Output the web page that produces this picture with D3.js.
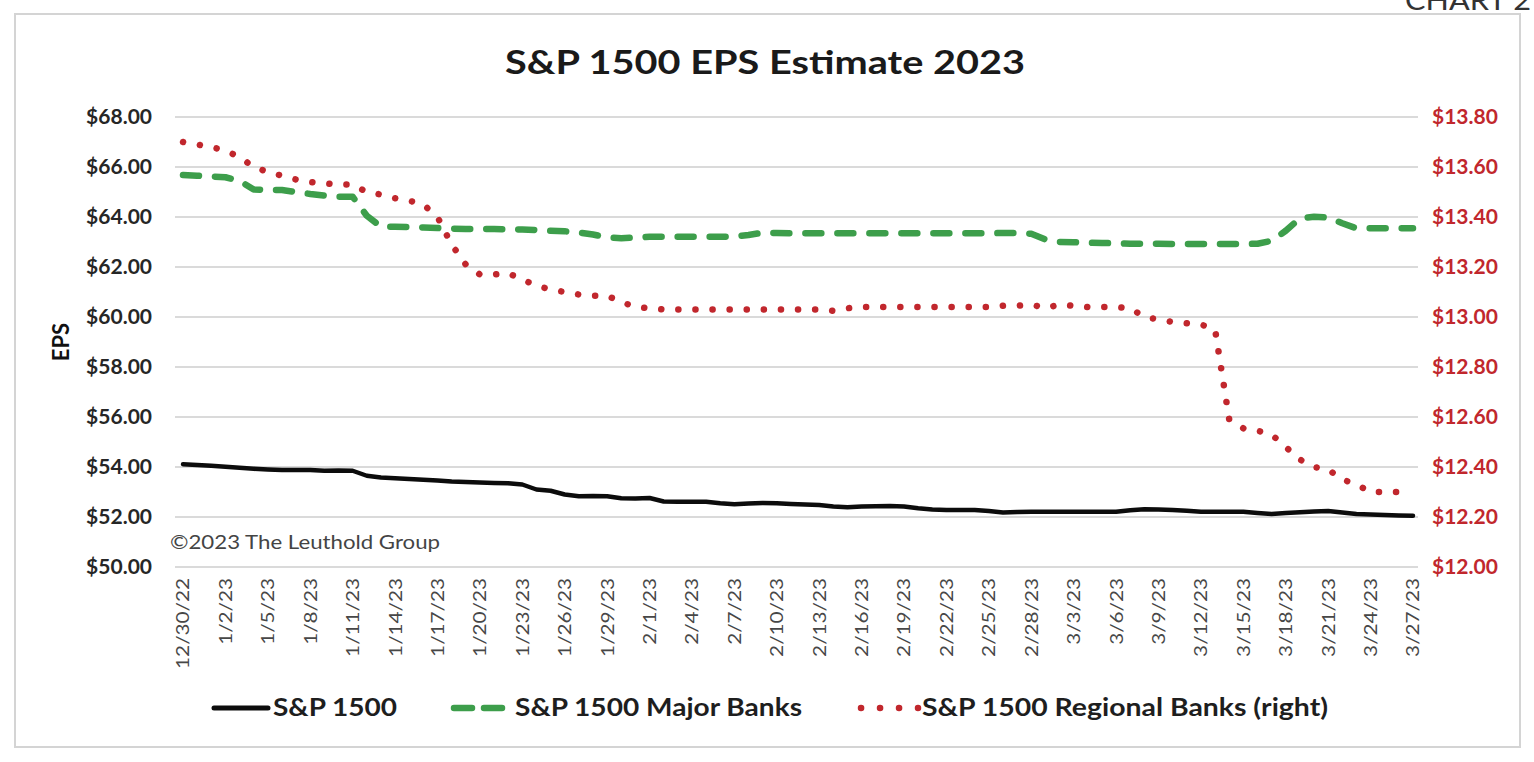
<!DOCTYPE html>
<html>
<head>
<meta charset="utf-8">
<script src="https://cdn.jsdelivr.net/npm/d3@7"></script>
<style>
  html, body { margin: 0; padding: 0; background: #fff; }
  svg { display: block; }
  text { font-family: Lato, "Open Sans", sans-serif; }
</style>
</head>
<body>
<div id="chart"></div>
<script>
// daily series, 12/30/22 .. 3/27/23
var startDay = new Date(2022, 11, 30), endDay = new Date(2023, 2, 27);

var sp1500 = [
  54.11, 54.08, 54.05, 54.01, 53.97, 53.93, 53.90, 53.88, 53.88, 53.88,
  53.85, 53.86, 53.85, 53.65, 53.58, 53.55, 53.52, 53.49, 53.46, 53.42,
  53.40, 53.38, 53.36, 53.35, 53.30, 53.10, 53.05, 52.90, 52.83, 52.84,
  52.83, 52.75, 52.74, 52.76, 52.62, 52.61, 52.61, 52.61, 52.55, 52.51,
  52.54, 52.56, 52.55, 52.52, 52.50, 52.48, 52.42, 52.39, 52.42, 52.43,
  52.44, 52.42, 52.35, 52.30, 52.28, 52.28, 52.28, 52.24, 52.18, 52.20,
  52.21, 52.21, 52.21, 52.21, 52.21, 52.21, 52.21, 52.27, 52.31, 52.30,
  52.28, 52.25, 52.21, 52.21, 52.21, 52.21, 52.16, 52.12, 52.16, 52.19,
  52.22, 52.24, 52.18, 52.12, 52.10, 52.08, 52.06, 52.05
];
var majorBanks = [
  65.68, 65.65, 65.62, 65.59, 65.45, 65.10, 65.08, 65.08, 65.00, 64.92,
  64.86, 64.81, 64.81, 64.05, 63.61, 63.61, 63.60, 63.58, 63.56, 63.53,
  63.52, 63.52, 63.52, 63.51, 63.50, 63.48, 63.45, 63.43, 63.38, 63.30,
  63.18, 63.15, 63.18, 63.21, 63.21, 63.21, 63.21, 63.21, 63.21, 63.22,
  63.28, 63.37, 63.36, 63.35, 63.35, 63.35, 63.35, 63.35, 63.35, 63.35,
  63.35, 63.35, 63.35, 63.35, 63.35, 63.35, 63.35, 63.35, 63.36, 63.36,
  63.33, 63.10, 63.00, 62.99, 62.97, 62.96, 62.95, 62.93, 62.93, 62.93,
  62.92, 62.92, 62.92, 62.92, 62.92, 62.92, 62.93, 63.05, 63.45, 63.95,
  64.01, 63.98, 63.75, 63.55, 63.55, 63.55, 63.55, 63.55
];
var regionalBanks = [
  13.70, 13.69, 13.68, 13.665, 13.64, 13.60, 13.58, 13.565, 13.55, 13.54,
  13.535, 13.53, 13.53, 13.50, 13.49, 13.475, 13.465, 13.45, 13.40, 13.29,
  13.21, 13.17, 13.17, 13.175, 13.15, 13.125, 13.11, 13.10, 13.09, 13.085,
  13.085, 13.06, 13.04, 13.035, 13.03, 13.03, 13.03, 13.03, 13.03, 13.03,
  13.03, 13.03, 13.03, 13.03, 13.03, 13.03, 13.025, 13.035, 13.04, 13.04,
  13.04, 13.04, 13.04, 13.04, 13.04, 13.04, 13.04, 13.04, 13.045, 13.045,
  13.05, 13.035, 13.05, 13.045, 13.04, 13.04, 13.04, 13.035, 13.00, 12.99,
  12.98, 12.975, 12.97, 12.95, 12.59, 12.555, 12.545, 12.53, 12.48, 12.43,
  12.40, 12.39, 12.35, 12.33, 12.30, 12.30, 12.30, 12.30
];

var tickLabels = ["12/30/22","1/2/23","1/5/23","1/8/23","1/11/23","1/14/23","1/17/23","1/20/23",
  "1/23/23","1/26/23","1/29/23","2/1/23","2/4/23","2/7/23","2/10/23","2/13/23","2/16/23",
  "2/19/23","2/22/23","2/25/23","2/28/23","3/3/23","3/6/23","3/9/23","3/12/23","3/15/23",
  "3/18/23","3/21/23","3/24/23","3/27/23"];
var leftTicks = [50, 52, 54, 56, 58, 60, 62, 64, 66, 68];
var rightTicks = [12.0, 12.2, 12.4, 12.6, 12.8, 13.0, 13.2, 13.4, 13.6, 13.8];

var W = 1534, H = 762;
var red = "#c1272d", green = "#3d9e4b";

var days = d3.timeDay.range(startDay, d3.timeDay.offset(endDay, 1));
var parse = d3.timeParse("%m/%d/%y");
var tickDates = tickLabels.map(function(s){ return parse(s); });

var svg = d3.select("#chart").append("svg")
  .attr("width", W).attr("height", H);

svg.append("text")
  .attr("x", 1531).attr("y", 10)
  .attr("text-anchor", "end")
  .attr("font-size", 27).attr("fill", "#333")
  .attr("textLength", 126).attr("lengthAdjust", "spacingAndGlyphs")
  .text("CHART 2");

svg.append("rect")
  .attr("x", 15).attr("y", 14).attr("width", 1505).attr("height", 733)
  .attr("fill", "#fff").attr("stroke", "#d4d4d4").attr("stroke-width", 2);

var x = d3.scaleTime().domain([startDay, endDay]).range([183, 1413]);
var yL = d3.scaleLinear().domain([50, 68]).range([567, 117]);
var yR = d3.scaleLinear().domain([12, 13.8]).range([567, 117]);

// gridlines
svg.append("g").selectAll("line")
  .data(leftTicks).enter().append("line")
  .attr("x1", 175).attr("x2", 1418)
  .attr("y1", function(d){ return yL(d); })
  .attr("y2", function(d){ return yL(d); })
  .attr("stroke", "#dadada").attr("stroke-width", 2);

// left axis
var gl = svg.append("g").attr("transform", "translate(152,0)")
  .call(d3.axisLeft(yL).tickValues(leftTicks).tickSize(0).tickPadding(0)
    .tickFormat(function(d){ return "$" + d.toFixed(2); }));
gl.select(".domain").remove();
gl.selectAll("text").attr("font-family", "Lato").attr("font-weight", "bold")
  .attr("font-size", 21).attr("fill", "#262626");

// right axis
var gr = svg.append("g").attr("transform", "translate(1432,0)")
  .call(d3.axisRight(yR).tickValues(rightTicks).tickSize(0).tickPadding(0)
    .tickFormat(function(d){ return "$" + d.toFixed(2); }));
gr.select(".domain").remove();
gr.selectAll("text").attr("font-family", "Lato").attr("font-weight", "bold")
  .attr("font-size", 21).attr("fill", red);

// bottom axis, rotated labels
var gx = svg.append("g").attr("transform", "translate(0,578)")
  .call(d3.axisBottom(x).tickValues(tickDates).tickSize(0)
    .tickFormat(function(d, i){ return tickLabels[i]; }));
gx.select(".domain").remove();
gx.selectAll("text")
  .attr("font-family", "Lato").attr("font-size", 17).attr("fill", "#474747")
  .attr("text-anchor", "end")
  .attr("transform", "rotate(-90)")
  .attr("x", 0).attr("y", 0).attr("dy", "0.35em")
  .each(function(){
    var len = this.getComputedTextLength();
    d3.select(this).attr("textLength", len * 1.22).attr("lengthAdjust", "spacingAndGlyphs");
  });

svg.append("text")
  .attr("transform", "translate(69,342) rotate(-90)")
  .attr("text-anchor", "middle")
  .attr("font-weight", "bold").attr("font-size", 22).attr("fill", "#111")
  .text("EPS");

svg.append("text")
  .attr("x", 765).attr("y", 74)
  .attr("text-anchor", "middle")
  .attr("font-weight", "bold").attr("font-size", 33).attr("fill", "#1a1a1a")
  .attr("textLength", 520).attr("lengthAdjust", "spacingAndGlyphs")
  .text("S&P 1500 EPS Estimate 2023");

svg.append("text")
  .attr("x", 170).attr("y", 549)
  .attr("font-size", 19).attr("fill", "#444")
  .attr("textLength", 270).attr("lengthAdjust", "spacingAndGlyphs")
  .text("\u00a92023 The Leuthold Group");

// series
function seriesLine(vals, y){
  return d3.line()
    .x(function(d, i){ return x(days[i]); })
    .y(function(d){ return y(d); })(vals);
}

svg.append("path")
  .attr("d", seriesLine(sp1500, yL))
  .attr("fill", "none").attr("stroke", "#0c0c0c").attr("stroke-width", 4.5)
  .attr("stroke-linejoin", "round").attr("stroke-linecap", "round");

svg.append("path")
  .attr("d", seriesLine(majorBanks, yL))
  .attr("fill", "none").attr("stroke", green).attr("stroke-width", 6.5)
  .attr("stroke-dasharray", "16,16")
  .attr("stroke-linejoin", "round").attr("stroke-linecap", "round");

svg.append("path")
  .attr("d", seriesLine(regionalBanks, yR))
  .attr("fill", "none").attr("stroke", red).attr("stroke-width", 6.5)
  .attr("stroke-dasharray", "0.1,17")
  .attr("stroke-linejoin", "round").attr("stroke-linecap", "round");

// legend
var legend = [
  {name: "S&P 1500", x1: 214, x2: 268, tx: 273, tw: 124, color: "#0c0c0c", dash: null, w: 5},
  {name: "S&P 1500 Major Banks", x1: 454, x2: 502, tx: 515, tw: 287, color: green, dash: "18,12", w: 6.5},
  {name: "S&P 1500 Regional Banks (right)", x1: 861, x2: 918, tx: 922, tw: 406, color: red, dash: "0.1,18.9", w: 6.5}
];
var lg = svg.append("g").selectAll("g").data(legend).enter().append("g");
lg.append("line")
  .attr("x1", function(d){ return d.x1; }).attr("x2", function(d){ return d.x2; })
  .attr("y1", 708).attr("y2", 708)
  .attr("stroke", function(d){ return d.color; })
  .attr("stroke-width", function(d){ return d.w; })
  .attr("stroke-dasharray", function(d){ return d.dash; })
  .attr("stroke-linecap", "round");
lg.append("text")
  .attr("x", function(d){ return d.tx; }).attr("y", 716)
  .attr("font-weight", "bold").attr("font-size", 24).attr("fill", "#1e1e1e")
  .attr("textLength", function(d){ return d.tw; }).attr("lengthAdjust", "spacingAndGlyphs")
  .text(function(d){ return d.name; });
</script>
</body>
</html>
